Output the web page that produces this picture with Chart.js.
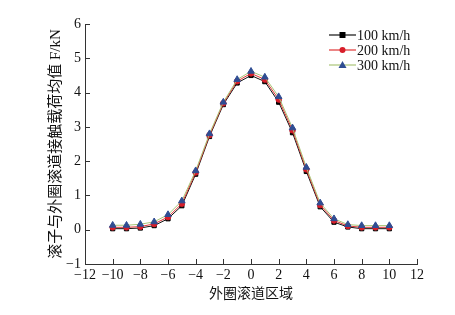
<!DOCTYPE html>
<html>
<head>
<meta charset="utf-8">
<script src="https://cdn.jsdelivr.net/npm/chart.js@4"></script>
<style>
  body { margin: 0; background: #fff; }
  #wrap { width: 455px; height: 315px; }
</style>
</head>
<body>
<div id="wrap"><canvas id="lineChart" width="455" height="315"></canvas></div>
<script>
// data
const positions = [-10, -9, -8, -7, -6, -5, -4, -3, -2, -1, 0, 1, 2, 3, 4, 5, 6, 7, 8, 9, 10];
const load100 = [0.03, 0.03, 0.05, 0.12, 0.32, 0.70, 1.62, 2.72, 3.65, 4.28, 4.50, 4.32, 3.72, 2.83, 1.70, 0.67, 0.22, 0.08, 0.03, 0.03, 0.03];
const load200 = [0.07, 0.07, 0.09, 0.17, 0.37, 0.76, 1.67, 2.76, 3.69, 4.33, 4.56, 4.38, 3.80, 2.90, 1.76, 0.72, 0.27, 0.11, 0.07, 0.07, 0.07];
const load300 = [0.13, 0.13, 0.16, 0.23, 0.44, 0.84, 1.72, 2.80, 3.72, 4.38, 4.62, 4.45, 3.88, 2.97, 1.82, 0.78, 0.32, 0.15, 0.12, 0.12, 0.12];
const seriesNames = ['100 km/h', '200 km/h', '300 km/h'];
const xTicks = [-12, -10, -8, -6, -4, -2, 0, 2, 4, 6, 8, 10, 12];
const yTicks = [-1, 0, 1, 2, 3, 4, 5, 6];

const serif = "'Liberation Serif', 'Times New Roman', serif";
const cjk = "'Liberation Serif', 'Noto Sans CJK SC', serif";

function pts(vals) {
  return vals.map((v, i) => ({ x: positions[i], y: v }));
}

// inward tick marks on left and bottom axes
const inwardTicks = {
  id: 'inwardTicks',
  afterDraw(chart) {
    const c = chart.ctx, a = chart.chartArea;
    const xs = chart.scales.x, ys = chart.scales.y;
    c.save();
    c.strokeStyle = '#333';
    c.lineWidth = 1;
    c.beginPath();
    xs.ticks.forEach(t => {
      const px = Math.round(xs.getPixelForValue(t.value)) + 0.5;
      c.moveTo(px, a.bottom);
      c.lineTo(px, a.bottom - 5);
    });
    ys.ticks.forEach(t => {
      const py = Math.round(ys.getPixelForValue(t.value)) + 0.5;
      c.moveTo(a.left, py);
      c.lineTo(a.left + 5, py);
    });
    c.stroke();
    c.restore();
  }
};

// legend drawn inside the plot, top right
const innerLegend = {
  id: 'innerLegend',
  afterDraw(chart) {
    const c = chart.ctx;
    const x0 = 329, x1 = 356, rows = [35, 50, 65];
    c.save();
    chart.data.datasets.forEach((ds, i) => {
      const y = rows[i];
      c.strokeStyle = ds.borderColor;
      c.lineWidth = 1.2;
      c.beginPath();
      c.moveTo(x0, y);
      c.lineTo(x1, y);
      c.stroke();
      c.fillStyle = ds.pointBackgroundColor;
      const mx = (x0 + x1) / 2;
      c.beginPath();
      if (ds.pointStyle === 'rect') c.rect(mx - 3, y - 3, 6, 6);
      else if (ds.pointStyle === 'triangle') { c.moveTo(mx, y - 4); c.lineTo(mx + 4, y + 3); c.lineTo(mx - 4, y + 3); c.closePath(); }
      else c.arc(mx, y, 3, 0, Math.PI * 2);
      c.fill();
      c.fillStyle = '#111';
      c.font = '14px ' + serif;
      c.textBaseline = 'middle';
      c.fillText(seriesNames[i], x1 + 1, y + 1);
    });
    c.restore();
  }
};

const ctx = document.getElementById('lineChart').getContext('2d');
const lineChart = new Chart(ctx, {
  type: 'line',
  data: {
    datasets: [
      {
        label: seriesNames[0],
        data: pts(load100),
        borderColor: '#111111',
        backgroundColor: '#111111',
        pointBackgroundColor: '#000000',
        pointBorderColor: '#000000',
        pointStyle: 'rect',
        pointRadius: 3,
        borderWidth: 1,
        order: 3
      },
      {
        label: seriesNames[1],
        data: pts(load200),
        borderColor: '#e03535',
        backgroundColor: '#e03535',
        pointBackgroundColor: '#d81e2a',
        pointBorderColor: '#d81e2a',
        pointStyle: 'circle',
        pointRadius: 2.8,
        borderWidth: 1,
        order: 2
      },
      {
        label: seriesNames[2],
        data: pts(load300),
        borderColor: '#a9c477',
        backgroundColor: '#a9c477',
        pointBackgroundColor: '#2f4d93',
        pointBorderColor: '#2f4d93',
        pointStyle: 'triangle',
        pointRadius: 3.8,
        borderWidth: 1,
        order: 1
      }
    ]
  },
  options: {
    responsive: false,
    animation: false,
    layout: { padding: { left: 0, right: 38, top: 24, bottom: 0 } },
    plugins: {
      legend: { display: false },
      tooltip: { enabled: false }
    },
    scales: {
      x: {
        type: 'linear',
        min: -12,
        max: 12,
        afterBuildTicks: s => { s.ticks = xTicks.map(v => ({ value: v })); },
        afterFit: s => { s.height = 51; },
        grid: { display: false, drawTicks: false },
        border: { display: true, color: '#333', width: 1 },
        ticks: {
          padding: 3,
          maxRotation: 0,
          minRotation: 0,
          autoSkip: false,
          color: '#111',
          font: { family: serif, size: 14 },
          callback: v => String(v).replace('-', '\u2212')
        },
        title: {
          display: true,
          text: '外圈滚道区域',
          color: '#111',
          font: { family: cjk, size: 14 },
          padding: { top: 0, bottom: 12 }
        }
      },
      y: {
        min: -1,
        max: 6,
        afterBuildTicks: s => { s.ticks = yTicks.map(v => ({ value: v })); },
        afterFit: s => { s.width = 85; },
        grid: { display: false, drawTicks: false },
        border: { display: true, color: '#333', width: 1 },
        ticks: {
          padding: 4,
          color: '#111',
          font: { family: serif, size: 14 },
          callback: v => String(v).replace('-', '\u2212')
        },
        title: {
          display: true,
          text: '滚子与外圈滚道接触载荷均值 F/kN',
          color: '#111',
          font: { family: cjk, size: 15 },
          padding: { top: 47, bottom: 0 }
        }
      }
    }
  },
  plugins: [inwardTicks, innerLegend]
});
</script>
</body>
</html>
